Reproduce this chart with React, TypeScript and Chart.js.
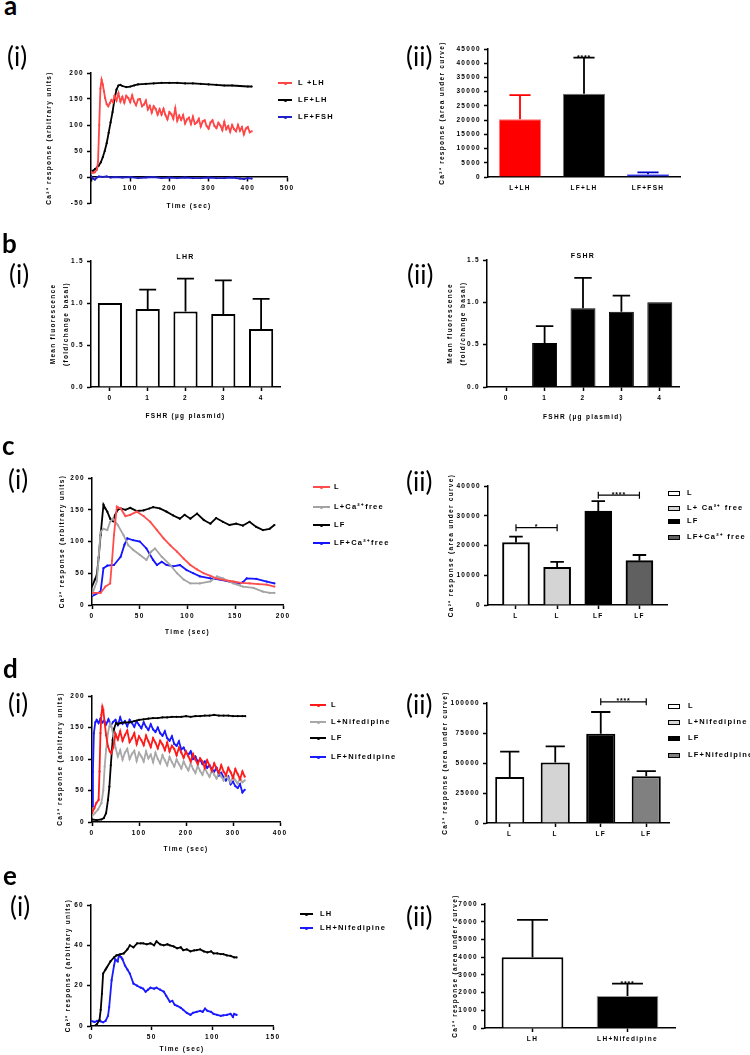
import React, { useEffect, useRef } from "react";
import { Chart, registerables } from "chart.js";

Chart.register(...registerables);

const FONT = "'Liberation Sans', Arial, Helvetica, sans-serif";
const PANEL_FONT = "Lato, 'Open Sans', sans-serif";

type Pt = [number, number];

// ================= DATA =================
// a(i) Ca2+ traces (time s, response)
const aLLH: Pt[] = [
  [0, 10], [5, 8], [10, 9], [15, 14], [18, 30], [21, 100], [24, 170], [27, 187], [30, 178], [33, 165], [36, 152],
  [40, 140], [44, 136], [48, 142], [52, 148], [56, 144], [60, 156], [65, 147], [70, 161], [75, 145], [80, 154],
  [85, 143], [90, 156], [95, 152], [100, 144], [105, 157], [110, 145], [115, 138], [120, 149], [125, 150], [130, 136],
  [135, 139], [140, 147], [145, 130], [150, 137], [155, 124], [160, 136], [165, 131], [170, 120], [175, 130], [180, 120],
  [185, 131], [190, 119], [195, 111], [200, 125], [205, 121], [210, 112], [215, 132], [220, 108], [225, 118], [230, 110],
  [235, 119], [240, 103], [245, 111], [250, 114], [255, 102], [260, 116], [265, 102], [270, 105], [275, 112], [280, 97],
  [285, 107], [290, 109], [295, 98], [300, 93], [305, 105], [310, 109], [315, 98], [320, 94], [325, 104], [330, 99],
  [335, 90], [340, 106], [345, 92], [350, 98], [355, 87], [360, 100], [365, 92], [370, 88], [375, 100], [380, 89],
  [385, 96], [390, 82], [395, 93], [400, 96], [405, 86], [410, 88],
];
const aLFLH: Pt[] = [
  [0, 10], [5, 12], [10, 15], [15, 18], [20, 22], [25, 28], [30, 38], [35, 50], [40, 65], [45, 85], [50, 105],
  [55, 125], [60, 150], [65, 168], [70, 176], [75, 177], [80, 175], [90, 173], [100, 174], [110, 176], [120, 178],
  [140, 179], [160, 180], [180, 181], [200, 181], [220, 181], [240, 180], [260, 180], [280, 179], [300, 178],
  [320, 177], [340, 176], [360, 176], [380, 175], [400, 174], [410, 174],
];
const aLFFSH: Pt[] = [
  [0, 2], [5, -3], [10, -5], [15, -1], [20, 1], [30, 0], [40, 1], [50, -1], [60, 0], [80, -1], [100, 0], [120, -2],
  [140, -1], [160, 0], [180, -2], [200, -1], [220, -2], [240, -1], [260, -2], [280, -2], [300, -1], [320, -2],
  [340, -2], [360, -1], [380, -3], [390, -4], [400, -2], [410, -3],
];
const aLegendLabels = ["L +LH", "LF+LH", "LF+FSH"];

// a(ii)
const aBarLabels = ["L+LH", "LF+LH", "LF+FSH"];
const aBarMeans = [20300, 29300, 1000];
const aBarErrTop = [28800, 42000, 1600];
const aBarStars = [{ i: 1, text: "****" }];

// b
const bLabels = ["0", "1", "2", "3", "4"];
const bLHRMeans = [1.0, 0.93, 0.9, 0.87, 0.69];
const bLHRErrTop: (number | null)[] = [null, 1.16, 1.29, 1.27, 1.05];
const bFSHRMeans = [0, 0.52, 0.93, 0.89, 1.0];
const bFSHRErrTop: (number | null)[] = [null, 0.72, 1.29, 1.08, null];

// c(i)
const cL: Pt[] = [
  [0, 19], [9, 19], [14, 29], [19, 34], [21, 70], [23, 110], [26, 155], [30, 152], [35, 140], [40, 142], [47, 147],
  [54, 140], [61, 131], [68, 118], [75, 105], [82, 94], [89, 84], [96, 73], [103, 63], [110, 56], [117, 50], [124, 46],
  [130, 42], [139, 39], [148, 37], [156, 35], [165, 34], [174, 33], [183, 32], [191, 29],
];
const cLCa: Pt[] = [
  [0, 16], [5, 37], [9, 115], [12, 120], [16, 118], [19, 131], [22, 136], [27, 126], [33, 110], [38, 94], [43, 87],
  [50, 79], [57, 71], [62, 84], [66, 89], [73, 76], [82, 63], [89, 50], [96, 40], [103, 34], [113, 34], [124, 37],
  [131, 45], [137, 42], [148, 34], [158, 29], [169, 27], [179, 21], [186, 19], [191, 19],
];
const cLF: Pt[] = [
  [0, 29], [3, 40], [5, 47], [7, 75], [9, 110], [12, 158], [14, 152], [16, 147], [19, 136], [22, 132], [24, 141],
  [27, 150], [30, 152], [35, 150], [40, 153], [47, 148], [54, 149], [60, 152], [64, 154], [71, 152], [78, 147],
  [85, 141], [92, 136], [97, 142], [103, 136], [110, 144], [117, 134], [124, 128], [130, 137], [137, 131], [144, 126],
  [151, 128], [158, 125], [165, 131], [172, 123], [179, 118], [186, 120], [191, 126],
];
const cLFCa: Pt[] = [
  [0, 14], [9, 21], [12, 58], [16, 62], [23, 63], [30, 76], [34, 95], [37, 105], [43, 102], [50, 100], [57, 89],
  [64, 71], [68, 63], [73, 68], [78, 63], [85, 61], [92, 63], [99, 55], [106, 50], [113, 45], [124, 42], [134, 40],
  [144, 37], [155, 34], [158, 36], [162, 42], [172, 41], [183, 37], [191, 34],
];
const cLineLegend = ["L", "L+Ca²⁺free", "LF", "LF+Ca²⁺free"];

// c(ii)
const cBarLabels = ["L", "L", "LF", "LF"];
const cBarMeans = [21000, 12700, 31600, 14900];
const cBarErrTop = [23000, 14500, 34900, 16800];
const cBrackets = [
  { a: 0, b: 1, y: 26000, text: "*" },
  { a: 2, b: 3, y: 36900, text: "****" },
];
const cBarLegend = ["L", "L+ Ca²⁺ free", "LF", "LF+Ca²⁺ free"];

// d(i)
const dL: Pt[] = [
  [0, 14], [5, 22], [9, 30], [14, 35], [16, 80], [18, 141], [20, 170], [22, 183], [24, 178], [27, 157], [30, 138],
  [34, 120], [38, 112], [41, 109], [45, 118], [50, 140], [55, 131], [60, 144], [65, 129], [70, 138], [75, 145],
  [80, 127], [85, 133], [90, 141], [95, 124], [100, 136], [105, 130], [110, 122], [115, 137], [120, 128], [125, 119],
  [130, 133], [135, 126], [140, 117], [145, 129], [150, 123], [155, 114], [160, 126], [165, 112], [170, 121],
  [175, 116], [180, 106], [185, 118], [190, 110], [195, 102], [200, 112], [205, 104], [210, 96], [215, 108], [220, 99],
  [225, 92], [230, 101], [235, 96], [240, 86], [245, 98], [250, 90], [255, 81], [260, 93], [265, 85], [270, 78],
  [275, 90], [280, 80], [285, 74], [290, 86], [295, 79], [300, 70], [305, 84], [310, 76], [315, 68], [320, 80], [325, 72],
];
const dLNif: Pt[] = [
  [0, 9], [6, 14], [13, 20], [20, 30], [24, 50], [27, 88], [30, 115], [34, 141], [37, 152], [39, 157], [42, 150],
  [46, 136], [50, 118], [55, 104], [60, 114], [65, 99], [70, 110], [75, 116], [80, 100], [85, 108], [90, 113],
  [95, 97], [100, 110], [105, 104], [110, 96], [115, 112], [120, 101], [125, 107], [130, 95], [135, 110], [140, 100],
  [145, 93], [150, 106], [155, 98], [160, 90], [165, 103], [170, 95], [175, 88], [180, 99], [185, 92], [190, 85],
  [195, 96], [200, 88], [205, 82], [210, 93], [215, 84], [220, 78], [225, 89], [230, 81], [235, 75], [240, 86],
  [245, 78], [250, 72], [255, 82], [260, 75], [265, 69], [270, 79], [275, 72], [280, 66], [285, 76], [290, 69],
  [295, 63], [300, 73], [305, 66], [310, 61], [315, 70], [320, 63], [325, 66],
];
const dLF: Pt[] = [
  [0, 4], [10, 3], [20, 4], [25, 6], [30, 14], [34, 35], [37, 56], [40, 90], [44, 130], [47, 148], [51, 157],
  [55, 155], [60, 157], [70, 158], [80, 158], [90, 160], [100, 162], [110, 163], [120, 164], [130, 165], [140, 165],
  [150, 166], [160, 166], [170, 167], [180, 167], [190, 167], [200, 168], [210, 167], [220, 168], [230, 168],
  [240, 169], [250, 169], [260, 170], [270, 169], [280, 169], [290, 169], [300, 168], [310, 168], [320, 168], [326, 168],
];
const dLFNif: Pt[] = [
  [0, 25], [2, 80], [4, 141], [7, 158], [10, 162], [14, 157], [18, 164], [22, 158], [26, 161], [30, 155], [35, 163],
  [40, 153], [45, 159], [50, 162], [55, 154], [60, 166], [65, 156], [70, 160], [75, 152], [80, 162], [85, 157],
  [90, 151], [95, 160], [100, 154], [105, 149], [110, 158], [115, 151], [120, 146], [125, 155], [130, 147],
  [135, 143], [140, 150], [145, 141], [150, 137], [155, 144], [160, 133], [165, 129], [170, 136], [175, 124],
  [180, 121], [185, 128], [190, 115], [195, 118], [200, 110], [205, 107], [210, 112], [215, 100], [220, 104],
  [225, 96], [230, 99], [235, 92], [240, 96], [245, 86], [250, 90], [255, 84], [260, 80], [265, 86], [270, 74],
  [275, 78], [280, 71], [285, 66], [290, 72], [295, 60], [300, 64], [305, 57], [310, 54], [315, 60], [320, 47], [325, 51],
];
const dLineLegend = ["L", "L+Nifedipine", "LF", "LF+Nifedipine"];

// d(ii)
const dBarLabels = ["L", "L", "LF", "LF"];
const dBarMeans = [38300, 50500, 74400, 38900];
const dBarErrTop = [59400, 63900, 92500, 43300];
const dBrackets = [{ a: 2, b: 3, y: 101000, text: "****" }];
const dBarLegend = ["L", "L+Nifedipine", "LF", "LF+Nifedipine"];

// e(i)
const eLH: Pt[] = [
  [0, 0], [3, 0], [5, 1], [7, 3], [8, 8], [9, 16], [10, 26], [12, 28], [13, 29], [16, 32], [19, 34], [21, 35],
  [24, 35.5], [27, 36], [30, 38], [32, 40], [35, 39], [38, 41], [41, 41], [43, 41], [46, 40.5], [49, 41], [52, 40],
  [54, 42], [57, 40.5], [60, 40], [63, 40.5], [65, 40], [68, 39.5], [71, 38.5], [74, 39], [76, 37.6], [79, 38],
  [82, 37], [85, 37.5], [87, 37.6], [90, 38], [93, 37], [96, 36.5], [99, 37], [101, 36], [104, 36], [107, 35.6],
  [109, 35.6], [112, 35], [115, 34.8], [118, 34], [120, 34],
];
const eLHNif: Pt[] = [
  [0, 2.5], [3, 2], [5, 2.5], [8, 2.3], [10, 1.8], [12, 2.5], [14, 5], [15, 9.4], [17, 22.7], [19, 30], [20, 33],
  [22, 32], [23, 35], [25, 34], [26, 33], [28, 30], [30, 28], [32, 26], [35, 21], [38, 20], [41, 19], [43, 18.5],
  [45, 17], [47, 18], [49, 19], [52, 18.5], [54, 19], [57, 18], [60, 17], [62, 15], [65, 12], [67, 12.5], [69, 10.5],
  [71, 10], [74, 9], [76, 8], [79, 6.5], [82, 5.5], [84, 6.5], [87, 7], [90, 7.5], [92, 7], [94, 8.6], [96, 7.5],
  [99, 7], [101, 6], [104, 5.5], [107, 5], [109, 5.3], [112, 5.5], [115, 6], [117, 4.5], [118, 6], [120, 5.5],
];
const eLineLegend = ["LH", "LH+Nifedipine"];

// e(ii)
const eBarLabels = ["LH", "LH+Nifedipine"];
const eBarMeans = [4000, 1800];
const eBarErrTop = [6100, 2500];
const eBarStars = [{ i: 1, text: "****" }];

// ================= STYLE =================
const RED_A = "#ff4646";
const BLUE_A = "#2020c8";
const RED_C = "#ff4d4d";
const GREY_C = "#a3a3a3";
const BLUE_C = "#1414ff";
const RED_D = "#ff1a1a";
const GREY_D = "#a8a8a8";
const BLUE_D = "#1a1aff";
const BLUE_E = "#1a1aff";

const Y_ARB = "Ca²⁺ response (arbitrary units)";
const Y_AUC = "Ca²⁺ response (area under curve)";
const Y_FLUO = ["Mean fluorescence", "(fold/change basal)"];
const X_TIME = "Time (sec)";
const X_FSHR = "FSHR (µg plasmid)";

const tickFont = { family: FONT, size: 6.5, weight: "bold" as const };
const TITLE_LH = 7.8;

type Box = { x: number; y: number; w: number; h: number };
type Area = { L: number; T: number; R: number; B: number };

function geometry(box: Box, area: Area, yTitleX: number, yLH: number, xTitleY: number | null, topTitleH = 0, xInArea = false) {
  const yw = area.L - (yTitleX - yLH / 2);
  const xh = xTitleY == null ? 20 : xTitleY - area.B + TITLE_LH / 2;
  return {
    yw,
    xh,
    padding: {
      left: area.L - box.x - yw,
      top: area.T - box.y - topTitleH,
      right: box.x + box.w - area.R,
      bottom: box.y + box.h - area.B - (xInArea ? 0 : xh),
    },
  };
}

const LETTER_SPACING = "1.3px";
const spacingPlugin = {
  id: "letterSpacing",
  beforeUpdate(chart: any) {
    chart.ctx.letterSpacing = LETTER_SPACING;
  },
  beforeDraw(chart: any) {
    chart.ctx.letterSpacing = LETTER_SPACING;
  },
};

function axisLines(tickColor = "#000") {
  return {
    grid: { display: true, drawOnChartArea: false, drawTicks: true, tickLength: 4, tickColor, tickWidth: 1.5 },
    border: { display: true, color: "#000", width: 1.5 },
  };
}

function yScale(min: number, max: number, step: number, title: string | string[], yw: number, lh: number, fmt: (v: number) => string) {
  return {
    type: "linear",
    position: "left",
    min,
    max,
    ...axisLines(),
    ticks: { stepSize: step, color: "#000", font: tickFont, padding: 3, autoSkip: false, callback: (v: any) => fmt(Number(v)) },
    title: { display: true, text: title, color: "#000", font: { family: FONT, size: 6.5, weight: "bold", lineHeight: lh + "px" }, padding: 0 },
    afterFit: (s: any) => {
      s.width = yw;
    },
  };
}

function xTitle(text: string, shift = 0) {
  return {
    display: true,
    text,
    color: "#000",
    font: { family: FONT, size: 6.5, weight: "bold", lineHeight: TITLE_LH + "px" },
    padding: { top: 0, bottom: -shift },
  };
}

const baseOptions = {
  responsive: false,
  maintainAspectRatio: false,
  animation: false,
  events: [],
};

function lineDs(data: Pt[], color: string) {
  return {
    data: data.map(([x, y]) => ({ x, y })),
    borderColor: color,
    backgroundColor: color,
    borderWidth: 1.8,
    pointRadius: 1.1,
    pointBorderWidth: 0,
    pointBackgroundColor: color,
    pointHoverRadius: 0,
    tension: 0,
    fill: false,
  };
}

type LineSpec = {
  box: Box;
  area: Area;
  yTitleX: number;
  xTitleY: number;
  xMax: number;
  xStep: number;
  yMin: number;
  yMax: number;
  yStep: number;
  series: { data: Pt[]; color: string }[];
  xAtZero?: boolean;
  titleShift?: number;
};

function lineConfig(s: LineSpec) {
  const g = geometry(s.box, s.area, s.yTitleX, TITLE_LH, s.xTitleY, 0, !!s.xAtZero);
  return {
    type: "line",
    data: { datasets: s.series.map((x) => lineDs(x.data, x.color)) },
    options: {
      ...baseOptions,
      layout: { padding: g.padding },
      plugins: { legend: { display: false }, tooltip: { enabled: false }, title: { display: false } },
      scales: {
        x: {
          type: "linear",
          position: s.xAtZero ? { y: 0 } : "bottom",
          min: 0,
          max: s.xMax,
          ...axisLines(),
          ticks: {
            stepSize: s.xStep,
            color: "#000",
            font: tickFont,
            padding: 3,
            autoSkip: false,
            maxRotation: 0,
            callback: (v: any) => (s.xAtZero && Number(v) === 0 ? "" : String(v)),
          },
          title: xTitle(X_TIME, s.titleShift || 0),
          afterFit: (sc: any) => {
            sc.height = g.xh;
          },
        },
        y: yScale(s.yMin, s.yMax, s.yStep, Y_ARB, g.yw, TITLE_LH, (v) => String(v)),
      },
    },
    plugins: [spacingPlugin],
  };
}

type BarSpec = {
  box: Box;
  area: Area;
  yTitleX: number;
  yTitle: string | string[];
  yLH: number;
  xTitleY: number | null;
  xTitleText?: string;
  topTitle?: string;
  labels: string[];
  means: number[];
  errTop: (number | null)[];
  fills: string[];
  borders: string[];
  borderWidths: number[];
  errColors: string[];
  yMax: number;
  yStep: number;
  fmt: (v: number) => string;
  barPct: number;
  capPct: number;
  brackets?: { a: number; b: number; y: number; text: string }[];
  stars?: { i: number; text: string }[];
  linearX?: { min: number; max: number; thickness: number };
  hideXTicks?: boolean;
};

function extrasPlugin(s: BarSpec) {
  return {
    id: "barExtras",
    afterDatasetsDraw(chart: any) {
      const ctx = chart.ctx;
      const meta = chart.getDatasetMeta(0);
      const ys = chart.scales.y;
      ctx.save();
      ctx.lineCap = "butt";
      s.errTop.forEach((e, i) => {
        if (e == null) return;
        const el = meta.data[i];
        const x = el.x;
        const w = el.width;
        const y1 = ys.getPixelForValue(e);
        ctx.strokeStyle = s.errColors[i] || "#000";
        ctx.lineWidth = 1.8;
        ctx.beginPath();
        ctx.moveTo(x, el.y);
        ctx.lineTo(x, y1);
        ctx.moveTo(x - (w * s.capPct) / 2, y1);
        ctx.lineTo(x + (w * s.capPct) / 2, y1);
        ctx.stroke();
      });
      ctx.fillStyle = "#000";
      ctx.font = `bold 7px ${FONT}`;
      ctx.textAlign = "center";
      ctx.textBaseline = "alphabetic";
      (ctx as any).letterSpacing = "0.8px";
      (s.stars || []).forEach((st) => {
        const el = meta.data[st.i];
        const y1 = ys.getPixelForValue(s.errTop[st.i] as number);
        ctx.fillText(st.text, el.x, y1 + 2.5);
      });
      (s.brackets || []).forEach((b) => {
        const xa = meta.data[b.a].x;
        const xb = meta.data[b.b].x;
        const y = ys.getPixelForValue(b.y);
        ctx.strokeStyle = "#000";
        ctx.lineWidth = 1.2;
        ctx.beginPath();
        ctx.moveTo(xa, y);
        ctx.lineTo(xb, y);
        ctx.moveTo(xa, y - 3.5);
        ctx.lineTo(xa, y + 3.5);
        ctx.moveTo(xb, y - 3.5);
        ctx.lineTo(xb, y + 3.5);
        ctx.stroke();
        ctx.fillText(b.text, (xa + xb) / 2, y + 1.5);
      });
      ctx.restore();
    },
  };
}

function barConfig(s: BarSpec) {
  const titleH = s.topTitle ? 8.4 : 0;
  const g = geometry(s.box, s.area, s.yTitleX, s.yLH, s.xTitleY, titleH, false);
  const lin = s.linearX;
  const xScale: any = lin
    ? {
        type: "linear",
        position: "bottom",
        min: lin.min,
        max: lin.max,
        offset: false,
        ...axisLines(),
        afterBuildTicks: (sc: any) => {
          sc.ticks = s.labels.map((_, i) => ({ value: i }));
        },
        ticks: { color: "#000", font: tickFont, padding: 3, autoSkip: false, maxRotation: 0, callback: (v: any) => s.labels[Number(v)] ?? "" },
      }
    : {
        type: "category",
        position: "bottom",
        offset: true,
        ...axisLines(s.hideXTicks ? "rgba(0,0,0,0)" : "#000"),
        ticks: { color: "#000", font: tickFont, padding: 3, autoSkip: false, maxRotation: 0 },
      };
  xScale.grid = { ...xScale.grid, offset: false };
  if (s.xTitleY != null && s.xTitleText) xScale.title = xTitle(s.xTitleText);
  xScale.afterFit = (sc: any) => {
    sc.height = g.xh;
  };
  const ds: any = {
    data: lin ? s.means.map((v, i) => ({ x: i, y: v })) : s.means,
    backgroundColor: s.fills,
    borderColor: s.borders,
    borderWidth: s.borderWidths,
    borderSkipped: "start",
  };
  if (lin) ds.barThickness = lin.thickness;
  else {
    ds.barPercentage = s.barPct;
    ds.categoryPercentage = 1;
  }
  return {
    type: "bar",
    data: { labels: s.labels, datasets: [ds] },
    options: {
      ...baseOptions,
      layout: { padding: g.padding },
      plugins: {
        legend: { display: false },
        tooltip: { enabled: false },
        title: s.topTitle
          ? { display: true, text: s.topTitle, fullSize: false, color: "#000", font: { family: FONT, size: 7, weight: "bold", lineHeight: 1.2 }, padding: 0 }
          : { display: false },
      },
      scales: {
        x: xScale,
        y: yScale(0, s.yMax, s.yStep, s.yTitle, g.yw, s.yLH, s.fmt),
      },
    },
    plugins: [spacingPlugin, extrasPlugin(s)],
  };
}

// ================= COMPONENTS =================
function ChartCanvas({ box, make }: { box: Box; make: () => any }) {
  const ref = useRef<HTMLCanvasElement | null>(null);
  useEffect(() => {
    if (!ref.current) return;
    const chart = new Chart(ref.current, make());
    return () => chart.destroy();
  }, []);
  return (
    <canvas
      ref={ref}
      width={box.w}
      height={box.h}
      style={{ position: "absolute", left: box.x, top: box.y, width: box.w, height: box.h }}
    />
  );
}

const legendText: React.CSSProperties = {
  position: "absolute",
  height: 12,
  lineHeight: "12px",
  fontFamily: FONT,
  fontWeight: "bold",
  fontSize: 7.5,
  letterSpacing: 1.2,
  whiteSpace: "nowrap",
  color: "#000",
};

function LineLegend({ x1, x2, tx, ys, labels, colors }: { x1: number; x2: number; tx: number; ys: number[]; labels: string[]; colors: string[] }) {
  return (
    <>
      {labels.map((lab, i) => (
        <React.Fragment key={i}>
          <div style={{ position: "absolute", left: x1, top: ys[i] - 1, width: x2 - x1, height: 2, background: colors[i] }} />
          <div style={{ position: "absolute", left: (x1 + x2) / 2 - 1.5, top: ys[i] - 1.5, width: 3, height: 3, borderRadius: "50%", background: colors[i] }} />
          <div style={{ ...legendText, left: tx, top: ys[i] - 6 }}>{lab}</div>
        </React.Fragment>
      ))}
    </>
  );
}

function BoxLegend({ x1, x2, tx, ys, labels, fills }: { x1: number; x2: number; tx: number; ys: number[]; labels: string[]; fills: string[] }) {
  return (
    <>
      {labels.map((lab, i) => (
        <React.Fragment key={i}>
          <div
            style={{
              position: "absolute",
              left: x1,
              top: ys[i] - 2.5,
              width: x2 - x1,
              height: 5,
              background: fills[i],
              border: "1.5px solid #000",
              boxSizing: "border-box",
            }}
          />
          <div style={{ ...legendText, left: tx, top: ys[i] - 6 }}>{lab}</div>
        </React.Fragment>
      ))}
    </>
  );
}

function PanelText({ text, x, base, size, bold }: { text: string; x: number; base: number; size: number; bold?: boolean }) {
  return (
    <div
      style={{
        position: "absolute",
        left: x,
        top: base - 0.887 * size,
        fontFamily: PANEL_FONT,
        fontSize: size,
        fontWeight: bold ? "bold" : "normal",
        lineHeight: 1,
        whiteSpace: "nowrap",
        color: "#000",
      }}
    >
      {text}
    </div>
  );
}

// ================= LAYOUT =================
const A1_BOX = { x: 0, y: 40, w: 375, h: 190 };
const A2_BOX = { x: 375, y: 20, w: 375, h: 210 };
const B1_BOX = { x: 0, y: 232, w: 375, h: 200 };
const B2_BOX = { x: 375, y: 232, w: 375, h: 200 };
const C1_BOX = { x: 0, y: 455, w: 375, h: 200 };
const C2_BOX = { x: 375, y: 455, w: 375, h: 200 };
const D1_BOX = { x: 0, y: 675, w: 375, h: 200 };
const D2_BOX = { x: 375, y: 675, w: 375, h: 200 };
const E1_BOX = { x: 0, y: 880, w: 375, h: 175 };
const E2_BOX = { x: 375, y: 880, w: 375, h: 175 };

const makeA1 = () =>
  lineConfig({
    box: A1_BOX,
    area: { L: 91, T: 73, R: 287, B: 203 },
    yTitleX: 49,
    xTitleY: 206,
    xMax: 500,
    xStep: 100,
    yMin: -50,
    yMax: 200,
    yStep: 50,
    xAtZero: true,
    titleShift: 26,
    series: [
      { data: aLLH, color: RED_A },
      { data: aLFLH, color: "#000" },
      { data: aLFFSH, color: BLUE_A },
    ],
  });

const makeA2 = () =>
  barConfig({
    box: A2_BOX,
    area: { L: 488, T: 49, R: 680, B: 177 },
    yTitleX: 442,
    yTitle: Y_AUC,
    yLH: TITLE_LH,
    xTitleY: null,
    labels: aBarLabels,
    means: aBarMeans,
    errTop: aBarErrTop,
    fills: ["#ff0000", "#000000", "#0000c8"],
    borders: ["#ff7070", "#707070", "#6060ff"],
    borderWidths: [1, 1, 1],
    errColors: ["#ff0000", "#000000", "#0000c8"],
    yMax: 45000,
    yStep: 5000,
    fmt: (v) => String(v),
    barPct: 0.66,
    capPct: 0.5,
    stars: aBarStars,
    hideXTicks: true,
  });

const makeB1 = () =>
  barConfig({
    box: B1_BOX,
    area: { L: 91, T: 261, R: 280, B: 387 },
    yTitleX: 53,
    yTitle: Y_FLUO,
    yLH: 13.5,
    xTitleY: 416,
    xTitleText: X_FSHR,
    topTitle: "LHR",
    labels: bLabels,
    means: bLHRMeans,
    errTop: bLHRErrTop,
    fills: ["#fff", "#fff", "#fff", "#fff", "#fff"],
    borders: ["#000", "#000", "#000", "#000", "#000"],
    borderWidths: [2, 2, 2, 2, 2],
    errColors: ["#000", "#000", "#000", "#000", "#000"],
    yMax: 1.5,
    yStep: 0.5,
    fmt: (v) => v.toFixed(1),
    barPct: 0.64,
    capPct: 0.7,
  });

const makeB2 = () =>
  barConfig({
    box: B2_BOX,
    area: { L: 487, T: 260, R: 679, B: 387 },
    yTitleX: 450,
    yTitle: Y_FLUO,
    yLH: 13.5,
    xTitleY: 417,
    xTitleText: X_FSHR,
    topTitle: "FSHR",
    labels: bLabels,
    means: bFSHRMeans,
    errTop: bFSHRErrTop,
    fills: ["#000", "#000", "#000", "#000", "#000"],
    borders: ["#000", "#000", "#000", "#000", "#000"],
    borderWidths: [1, 1, 1, 1, 1],
    errColors: ["#000", "#000", "#000", "#000", "#000"],
    yMax: 1.5,
    yStep: 0.5,
    fmt: (v) => v.toFixed(1),
    barPct: 0.65,
    capPct: 0.7,
  });

const makeC1 = () =>
  lineConfig({
    box: C1_BOX,
    area: { L: 92, T: 478, R: 283, B: 605 },
    yTitleX: 62,
    xTitleY: 632,
    xMax: 200,
    xStep: 50,
    yMin: 0,
    yMax: 200,
    yStep: 50,
    series: [
      { data: cL, color: RED_C },
      { data: cLCa, color: GREY_C },
      { data: cLF, color: "#000" },
      { data: cLFCa, color: BLUE_C },
    ],
  });

const C_FILLS = ["#ffffff", "#d4d4d4", "#000000", "#606060"];
const makeC2 = () =>
  barConfig({
    box: C2_BOX,
    area: { L: 488, T: 486, R: 667, B: 605 },
    yTitleX: 451,
    yTitle: Y_AUC,
    yLH: TITLE_LH,
    xTitleY: null,
    labels: cBarLabels,
    means: cBarMeans,
    errTop: cBarErrTop,
    fills: C_FILLS,
    borders: ["#000", "#000", "#000", "#000"],
    borderWidths: [2, 2, 2, 2],
    errColors: ["#000", "#000", "#000", "#000"],
    yMax: 40000,
    yStep: 10000,
    fmt: (v) => String(v),
    barPct: 0.65,
    capPct: 0.5,
    brackets: cBrackets,
    linearX: { min: -0.68, max: 3.67, thickness: 27 },
  });

const makeD1 = () =>
  lineConfig({
    box: D1_BOX,
    area: { L: 92, T: 696, R: 280, B: 822 },
    yTitleX: 60,
    xTitleY: 849,
    xMax: 400,
    xStep: 100,
    yMin: 0,
    yMax: 200,
    yStep: 50,
    series: [
      { data: dL, color: RED_D },
      { data: dLNif, color: GREY_D },
      { data: dLF, color: "#000" },
      { data: dLFNif, color: BLUE_D },
    ],
  });

const D_FILLS = ["#ffffff", "#d4d4d4", "#000000", "#808080"];
const makeD2 = () =>
  barConfig({
    box: D2_BOX,
    area: { L: 487, T: 703, R: 669, B: 823 },
    yTitleX: 445,
    yTitle: Y_AUC,
    yLH: TITLE_LH,
    xTitleY: null,
    labels: dBarLabels,
    means: dBarMeans,
    errTop: dBarErrTop,
    fills: D_FILLS,
    borders: ["#000", "#000", "#000", "#000"],
    borderWidths: [2, 2, 2, 2],
    errColors: ["#000", "#000", "#000", "#000"],
    yMax: 100000,
    yStep: 25000,
    fmt: (v) => String(v),
    barPct: 0.64,
    capPct: 0.66,
    brackets: dBrackets,
  });

const makeE1 = () =>
  lineConfig({
    box: E1_BOX,
    area: { L: 91, T: 905, R: 273, B: 1026 },
    yTitleX: 68,
    xTitleY: 1049,
    xMax: 150,
    xStep: 50,
    yMin: 0,
    yMax: 60,
    yStep: 20,
    series: [
      { data: eLH, color: "#000" },
      { data: eLHNif, color: BLUE_E },
    ],
  });

const makeE2 = () =>
  barConfig({
    box: E2_BOX,
    area: { L: 485, T: 904, R: 675, B: 1028 },
    yTitleX: 455,
    yTitle: Y_AUC,
    yLH: TITLE_LH,
    xTitleY: null,
    labels: eBarLabels,
    means: eBarMeans,
    errTop: eBarErrTop,
    fills: ["#ffffff", "#000000"],
    borders: ["#000000", "#9a9a9a"],
    borderWidths: [2, 1],
    errColors: ["#000", "#000"],
    yMax: 7000,
    yStep: 1000,
    fmt: (v) => String(v),
    barPct: 0.65,
    capPct: 0.5,
    stars: eBarStars,
  });

export default function App() {
  return (
    <div style={{ position: "absolute", left: 0, top: 0, width: 750, height: 1055, background: "#fff", overflow: "hidden" }}>
      <ChartCanvas box={A1_BOX} make={makeA1} />
      <ChartCanvas box={A2_BOX} make={makeA2} />
      <ChartCanvas box={B1_BOX} make={makeB1} />
      <ChartCanvas box={B2_BOX} make={makeB2} />
      <ChartCanvas box={C1_BOX} make={makeC1} />
      <ChartCanvas box={C2_BOX} make={makeC2} />
      <ChartCanvas box={D1_BOX} make={makeD1} />
      <ChartCanvas box={D2_BOX} make={makeD2} />
      <ChartCanvas box={E1_BOX} make={makeE1} />
      <ChartCanvas box={E2_BOX} make={makeE2} />

      <LineLegend x1={278} x2={292} tx={298} ys={[83, 100, 117]} labels={aLegendLabels} colors={[RED_A, "#000", BLUE_A]} />
      <LineLegend x1={313} x2={330} tx={334} ys={[487, 507, 525, 543]} labels={cLineLegend} colors={[RED_C, GREY_C, "#000", BLUE_C]} />
      <BoxLegend x1={668} x2={680} tx={687} ys={[493, 508, 521, 537]} labels={cBarLegend} fills={C_FILLS} />
      <LineLegend x1={310} x2={326} tx={331} ys={[705, 722, 738, 757]} labels={dLineLegend} colors={[RED_D, GREY_D, "#000", BLUE_D]} />
      <BoxLegend x1={668} x2={680} tx={688} ys={[706, 722, 738, 755]} labels={dBarLegend} fills={D_FILLS} />
      <LineLegend x1={300} x2={313} tx={320} ys={[914, 928]} labels={eLineLegend} colors={["#000", BLUE_E]} />

      <PanelText text="a" x={4} base={15} size={26} bold />
      <PanelText text="b" x={2} base={253} size={26} bold />
      <PanelText text="c" x={2} base={455} size={26} bold />
      <PanelText text="d" x={3} base={678} size={26} bold />
      <PanelText text="e" x={3} base={885} size={26} bold />

      <PanelText text="(i)" x={7} base={66} size={26} />
      <PanelText text="(ii)" x={406} base={66} size={26} />
      <PanelText text="(i)" x={9} base={284} size={26} />
      <PanelText text="(ii)" x={407} base={284} size={26} />
      <PanelText text="(i)" x={8} base={489} size={26} />
      <PanelText text="(ii)" x={406} base={491} size={26} />
      <PanelText text="(i)" x={8} base={713} size={26} />
      <PanelText text="(ii)" x={406} base={714} size={26} />
      <PanelText text="(i)" x={10} base={916} size={26} />
      <PanelText text="(ii)" x={406} base={926} size={26} />
    </div>
  );
}
